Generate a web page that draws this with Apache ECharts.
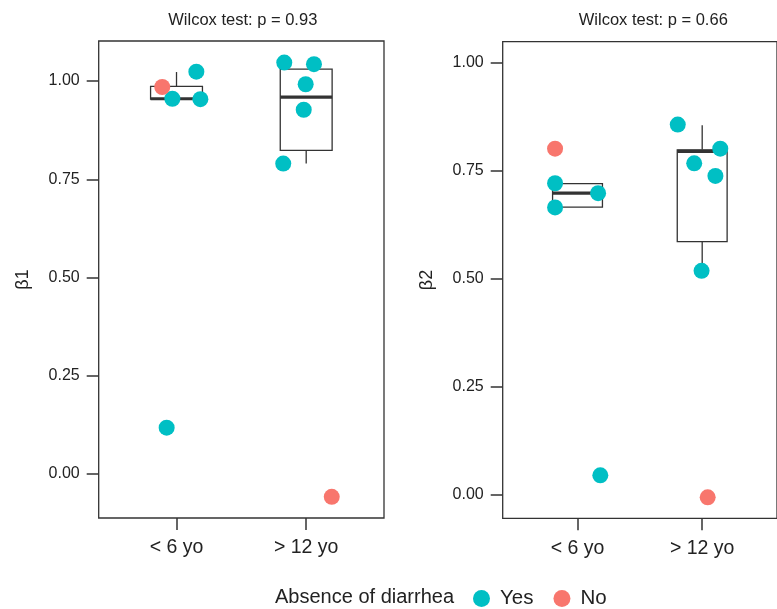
<!DOCTYPE html>
<html><head><meta charset="utf-8">
<script src="https://cdn.jsdelivr.net/npm/echarts@6/dist/echarts.min.js"></script>
<style>html,body{margin:0;padding:0;background:#fff;overflow:hidden}#c{width:777px;height:609px}</style>
</head><body><div id="c"></div>
<script>
const categories = ['< 6 yo', '> 12 yo'];
const yTicks = [0, 0.25, 0.5, 0.75, 1.0];
const panelTitles = ['Wilcox test: p = 0.93', 'Wilcox test: p = 0.66'];
const yNames = ['β1', 'β2'];
const legendTitle = 'Absence of diarrhea';
const groupNames = ['Yes', 'No'];

// β1 points: category index, horizontal jitter, value, group
const b1Cat = [1, 1, 1, 1, 1, 2, 2, 2, 2, 2, 2];
const b1Jit = [-0.11, 0.153, -0.032, 0.184, -0.076, -0.169, 0.06, -0.004, -0.019, -0.177, 0.197];
const b1Val = [0.985, 1.024, 0.955, 0.954, 0.118, 1.047, 1.043, 0.992, 0.927, 0.790, -0.058];
const b1Grp = ['No', 'Yes', 'Yes', 'Yes', 'Yes', 'Yes', 'Yes', 'Yes', 'Yes', 'Yes', 'No'];

// β2 points
const b2Cat = [1, 1, 1, 1, 1, 2, 2, 2, 2, 2, 2];
const b2Jit = [-0.18, -0.18, 0.165, -0.18, 0.183, -0.196, 0.145, -0.064, 0.106, -0.005, 0.044];
const b2Val = [0.801, 0.721, 0.698, 0.665, 0.044, 0.857, 0.801, 0.767, 0.738, 0.518, -0.007];
const b2Grp = ['No', 'Yes', 'Yes', 'Yes', 'Yes', 'Yes', 'Yes', 'Yes', 'Yes', 'Yes', 'No'];

// box stats per category: [lower whisker, Q1, median, Q3, upper whisker]
const b1Box = [[0.954, 0.954, 0.955, 0.9865, 1.023], [0.790, 0.8236, 0.959, 1.0305, 1.0305]];
const b2Box = [[0.6654, 0.6654, 0.698, 0.720, 0.720], [0.5177, 0.5857, 0.795, 0.7985, 0.8556]];

const yRanges = [[-0.112, 1.102], [-0.0556, 1.049]];
const colors = {Yes: '#00BFC4', No: '#F8766D'};

const INK = '#333333';
const FONT = 'Liberation Sans, Arial, Helvetica, sans-serif';

const grids = [
  {left: 98.7, top: 41, width: 285.3, height: 477},
  {left: 502.7, top: 41.7, width: 284.5, height: 476.6}
];

function pts(cat, jit, val, grp, g) {
  const out = [];
  for (let i = 0; i < cat.length; i++) if (grp[i] === g) out.push([cat[i] + jit[i], val[i]]);
  return out;
}

function boxSeries(box, idx) {
  return {
    type: 'custom',
    xAxisIndex: idx, yAxisIndex: idx,
    silent: true, z: 1,
    data: box.map((b, i) => [i + 1].concat(b)),
    renderItem: function (params, api) {
      const c = api.value(0);
      const lo = api.value(1), q1 = api.value(2), md = api.value(3), q3 = api.value(4), hi = api.value(5);
      const hw = 0.2;
      const tl = api.coord([c - hw, q3]);
      const br = api.coord([c + hw, q1]);
      const mid = api.coord([c, md]);
      const top = api.coord([c, hi]);
      const bot = api.coord([c, lo]);
      const lineStyle = {stroke: INK, lineWidth: 1.3, fill: null};
      return {
        type: 'group',
        children: [
          {type: 'line', shape: {x1: top[0], y1: top[1], x2: top[0], y2: tl[1]}, style: lineStyle},
          {type: 'line', shape: {x1: bot[0], y1: br[1], x2: bot[0], y2: bot[1]}, style: lineStyle},
          {type: 'rect', shape: {x: tl[0], y: tl[1], width: br[0] - tl[0], height: br[1] - tl[1]},
           style: {stroke: INK, lineWidth: 1.3, fill: '#ffffff'}},
          {type: 'line', shape: {x1: tl[0], y1: mid[1], x2: br[0], y2: mid[1]},
           style: {stroke: INK, lineWidth: 3.2, fill: null}}
        ]
      };
    }
  };
}

const xAxes = [0, 1].map(i => ({
  type: 'value', gridIndex: i, min: 0.4, max: 2.6, position: 'bottom',
  axisLine: {show: false, onZero: false},
  splitLine: {show: false},
  axisTick: {show: true, length: 12, customValues: [1, 2], lineStyle: {color: INK, width: 1.5}},
  axisLabel: {show: true, customValues: [1, 2], margin: 20,
    formatter: v => categories[Math.round(v) - 1],
    color: '#222', fontSize: 19.5, fontFamily: FONT}
}));

const yAxes = [0, 1].map(i => ({
  type: 'value', gridIndex: i, min: yRanges[i][0], max: yRanges[i][1], position: 'left',
  name: yNames[i], nameLocation: 'middle', nameGap: 67, nameRotate: 90,
  nameTextStyle: {color: '#222', fontSize: 18, fontFamily: FONT},
  axisLine: {show: false, onZero: false},
  splitLine: {show: false},
  axisTick: {show: true, length: 12, customValues: yTicks, lineStyle: {color: INK, width: 1.5}},
  axisLabel: {show: true, customValues: yTicks, margin: 19,
    formatter: v => v.toFixed(2),
    color: '#222', fontSize: 16, fontFamily: FONT}
}));

const series = [
  boxSeries(b1Box, 0),
  boxSeries(b2Box, 1)
];
groupNames.forEach(g => {
  series.push({type: 'scatter', name: g, xAxisIndex: 0, yAxisIndex: 0, z: 3,
    symbol: 'circle', symbolSize: 16, itemStyle: {color: colors[g], opacity: 1},
    data: pts(b1Cat, b1Jit, b1Val, b1Grp, g)});
  series.push({type: 'scatter', name: g, xAxisIndex: 1, yAxisIndex: 1, z: 3,
    symbol: 'circle', symbolSize: 16, itemStyle: {color: colors[g], opacity: 1},
    data: pts(b2Cat, b2Jit, b2Val, b2Grp, g)});
});

const chart = echarts.init(document.getElementById('c'), null, {renderer: 'canvas'});
chart.setOption({
  backgroundColor: '#ffffff',
  animation: false,
  textStyle: {fontFamily: FONT},
  title: [
    {text: panelTitles[0], left: 237.8, top: 7, textAlign: 'center',
     textStyle: {fontSize: 16.5, fontWeight: 'normal', color: '#222', fontFamily: FONT}},
    {text: panelTitles[1], left: 648.3, top: 7, textAlign: 'center',
     textStyle: {fontSize: 16.5, fontWeight: 'normal', color: '#222', fontFamily: FONT}},
    {text: legendTitle, left: 270, top: 582,
     textStyle: {fontSize: 20, fontWeight: 'normal', color: '#222', fontFamily: FONT}}
  ],
  legend: {
    data: groupNames, left: 468, top: 583, icon: 'circle',
    itemWidth: 17, itemHeight: 17, itemGap: 20,
    textStyle: {fontSize: 20.5, color: '#222', fontFamily: FONT, padding: [0, 0, 0, 5]}
  },
  grid: grids.map(g => Object.assign({show: true, borderColor: INK, borderWidth: 1.3,
    backgroundColor: 'transparent', containLabel: false}, g)),
  xAxis: xAxes,
  yAxis: yAxes,
  series: series
});
</script>
</body></html>
